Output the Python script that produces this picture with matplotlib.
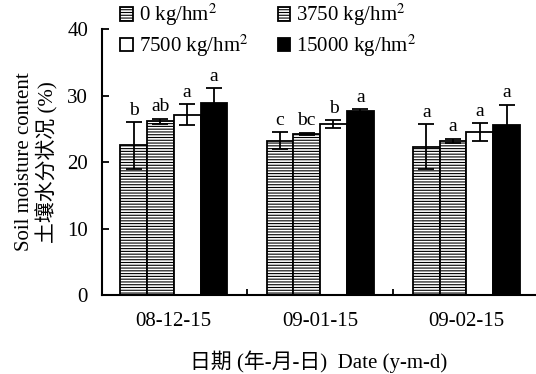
import numpy as np
import matplotlib
matplotlib.use("Agg")
import matplotlib.pyplot as plt

plt.rcParams["font.family"] = ["Liberation Serif", "Noto Sans CJK SC"]
plt.rcParams["mathtext.fontset"] = "stix"
plt.rcParams["hatch.linewidth"] = 0.8
plt.rcParams["hatch.color"] = "#707070"

dates = ["08-12-15", "09-01-15", "09-02-15"]
treatments = ["0 kg/hm$^2$", "3750 kg/hm$^2$", "7500 kg/hm$^2$", "15000 kg/hm$^2$"]
moisture = [
    [22.5, 23.2, 22.3],
    [26.1, 24.2, 23.2],
    [27.1, 25.7, 24.5],
    [28.9, 27.7, 25.5],
]
errors = [
    [3.5, 1.3, 3.4],
    [0.4, 0.2, 0.3],
    [1.6, 0.6, 1.3],
    [2.2, 0.2, 3.1],
]
letters = [
    ["b", "c", "a"],
    ["ab", "bc", "a"],
    ["a", "b", "a"],
    ["a", "a", "a"],
]

facecolors = ["white", "white", "white", "black"]
hatches = ["------", "------", None, None]

fig = plt.figure(figsize=(5.36, 3.74), dpi=100)
ax = fig.add_axes([102 / 536, 79 / 374, 434 / 536, 266 / 374])

x = np.arange(len(dates))
width = 0.183
bars = []
for i in range(4):
    pos = x + (i - 1.5) * width
    b = ax.bar(pos, moisture[i], width, color=facecolors[i], edgecolor="black",
               linewidth=1.3, hatch=hatches[i], label=treatments[i], zorder=2)
    bars.append(b)
    ax.errorbar(pos, moisture[i], yerr=errors[i], fmt="none", ecolor="black",
                elinewidth=1.3, capsize=5.5, capthick=1.3, zorder=3)
    for p, v, e, t in zip(pos, moisture[i], errors[i], letters[i]):
        ax.text(p, v + e + 0.5, t, ha="center", va="bottom", fontsize=14)

ax.set_xlim(-0.49, 2.475)
ax.set_ylim(0, 40)
ax.set_yticks([0, 10, 20, 30, 40])
ax.set_xticks(x)
ax.set_xticklabels(dates)
ax.set_xticks([0.5, 1.5], minor=True)
ax.tick_params(axis="x", which="major", length=0, labelsize=15, pad=12)
ax.tick_params(axis="x", which="minor", direction="in", length=4, width=1.3)
ax.tick_params(axis="y", direction="in", length=5, width=1.3, labelsize=15, pad=10)
ax.spines["top"].set_visible(False)
ax.spines["right"].set_visible(False)
ax.spines["left"].set_linewidth(1.5)
ax.spines["bottom"].set_linewidth(1.5)

ax.set_ylabel("Soil moisture content\n土壤水分状况 (%)", fontsize=15,
              linespacing=1.15, labelpad=6)
ax.set_xlabel("日期 (年-月-日)  Date (y-m-d)", fontsize=15, labelpad=14)

# row-wise legend: 0 / 3750 on top, 7500 / 15000 below
order = [0, 2, 1, 3]
ax.legend([bars[k] for k in order], [treatments[k] for k in order],
          loc="upper left", bbox_to_anchor=(118 / 536, 1.0),
          bbox_transform=fig.transFigure, ncol=2, frameon=False,
          fontsize=15, handlelength=0.6, handleheight=0.6,
          handletextpad=0.3, columnspacing=1.4, labelspacing=0.2,
          borderaxespad=0.0, borderpad=0.1)

fig.savefig("out.png", dpi=100)
